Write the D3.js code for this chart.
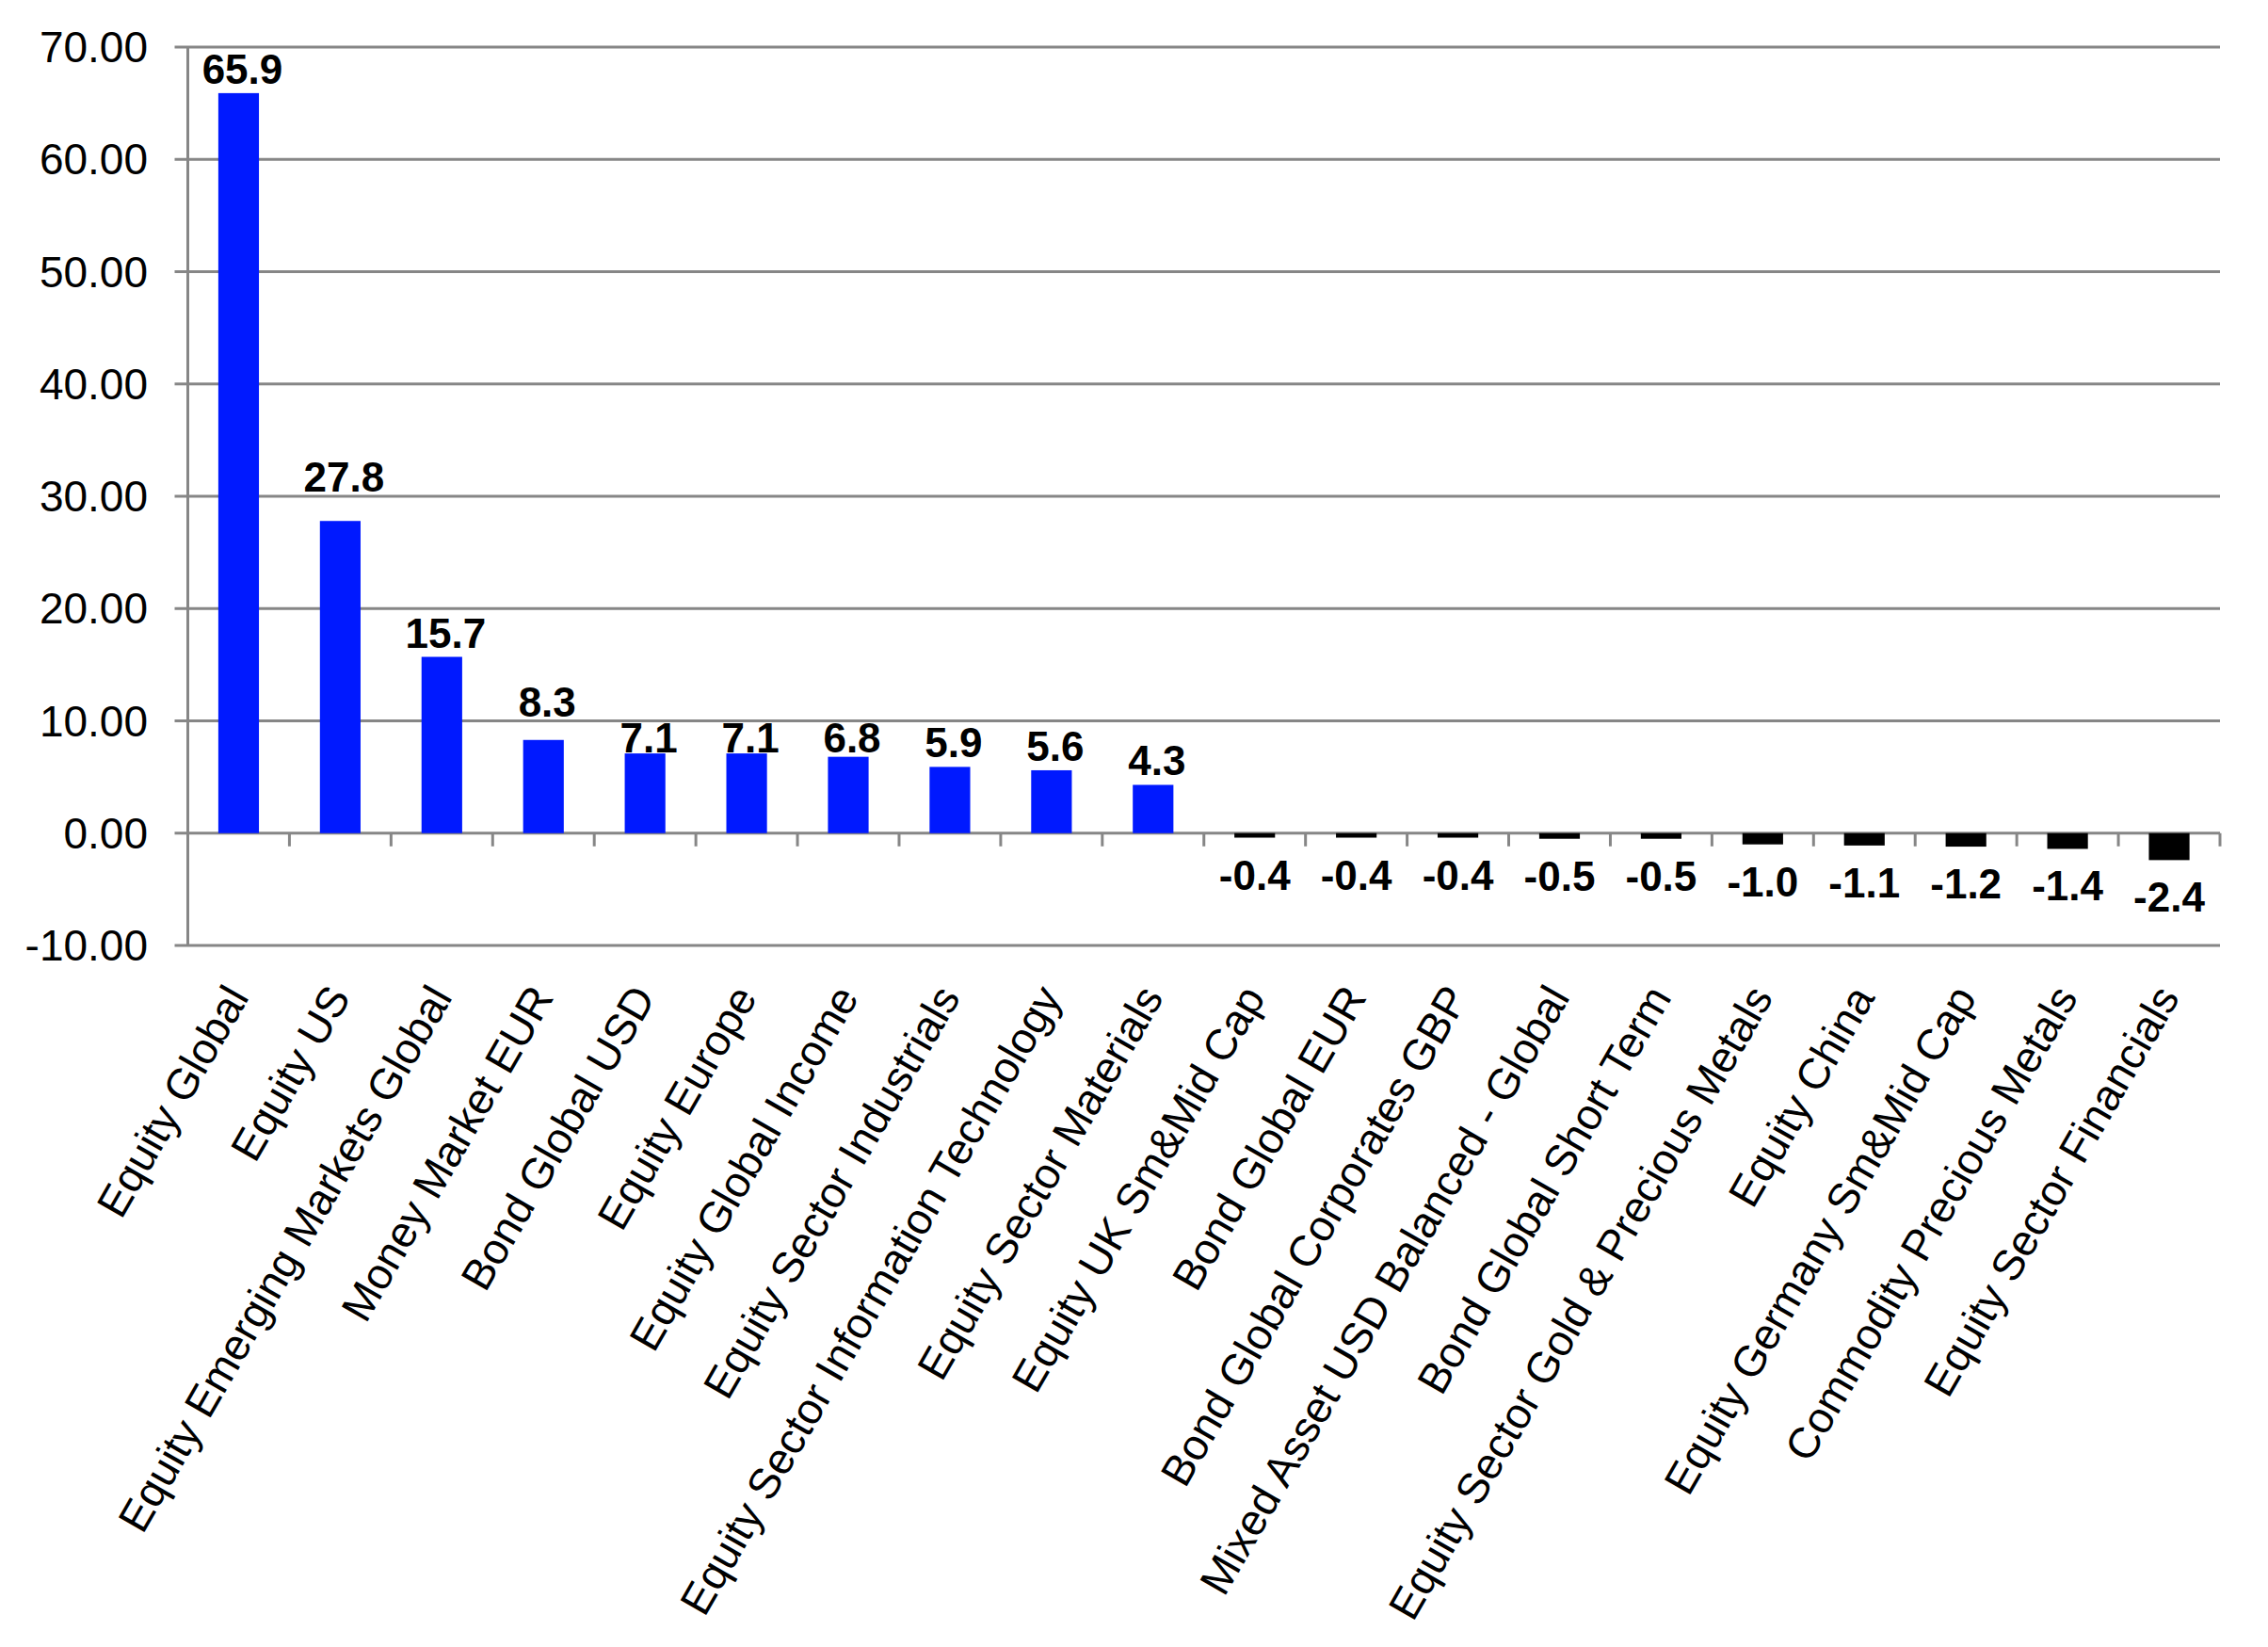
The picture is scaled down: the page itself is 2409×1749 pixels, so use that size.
<!DOCTYPE html>
<html lang="en">
<head>
<meta charset="UTF-8">
<title>Fund flows</title>
<script src="https://cdn.jsdelivr.net/npm/d3@7"></script>
<style>
  body { margin: 0; background: #fff; }
  svg { display: block; }
  text { font-family: "Liberation Sans", Arial, sans-serif; fill: #000; }
</style>
</head>
<body>
<div id="chart"></div>
<script>
// data
var categories = [
  "Equity Global", "Equity US", "Equity Emerging Markets Global", "Money Market EUR",
  "Bond Global USD", "Equity Europe", "Equity Global Income", "Equity Sector Industrials",
  "Equity Sector Information Technology", "Equity Sector Materials", "Equity UK Sm&Mid Cap",
  "Bond Global EUR", "Bond Global Corporates GBP", "Mixed Asset USD Balanced - Global",
  "Bond Global Short Term", "Equity Sector Gold & Precious Metals", "Equity China",
  "Equity Germany Sm&Mid Cap", "Commodity Precious Metals", "Equity Sector Financials"
];
var values = [65.9, 27.8, 15.7, 8.3, 7.1, 7.1, 6.8, 5.9, 5.6, 4.3,
  -0.4, -0.4, -0.4, -0.5, -0.5, -1.0, -1.1, -1.2, -1.4, -2.4];
var yTicks = [-10, 0, 10, 20, 30, 40, 50, 60, 70];

var W = 2409, H = 1749;
var plotLeft = 199.5, plotRight = 2358, plotTop = 50, plotBottom = 1004;
var gridColor = "#868686";

var svg = d3.select("#chart").append("svg")
  .attr("width", W)
  .attr("height", H);

svg.append("rect").attr("width", W).attr("height", H).attr("fill", "#fff");

var x = d3.scaleBand()
  .domain(categories)
  .range([plotLeft, plotRight])
  .paddingInner(0.6)
  .paddingOuter(0.3);

var y = d3.scaleLinear()
  .domain([-10, 70])
  .range([plotBottom, plotTop]);

var step = x.step();

// gridlines (with little ticks sticking out left of the axis)
svg.append("g").selectAll("line")
  .data(yTicks)
  .join("line")
  .attr("x1", plotLeft - 14)
  .attr("x2", plotRight)
  .attr("y1", d => y(d))
  .attr("y2", d => y(d))
  .attr("stroke", gridColor)
  .attr("stroke-width", 3);

// y axis line
svg.append("line")
  .attr("x1", plotLeft).attr("x2", plotLeft)
  .attr("y1", y(70)).attr("y2", y(-10))
  .attr("stroke", gridColor)
  .attr("stroke-width", 3);

// category ticks on the zero line
svg.append("g").selectAll("line")
  .data(d3.range(1, categories.length + 1))
  .join("line")
  .attr("x1", i => plotLeft + i * step)
  .attr("x2", i => plotLeft + i * step)
  .attr("y1", y(0))
  .attr("y2", y(0) + 14)
  .attr("stroke", gridColor)
  .attr("stroke-width", 3);

// y tick labels
svg.append("g").selectAll("text")
  .data(yTicks)
  .join("text")
  .attr("x", 157)
  .attr("y", d => y(d) + 16)
  .attr("text-anchor", "end")
  .style("font-size", "46px")
  .text(d => d.toFixed(2));

// bars
svg.append("g").selectAll("rect")
  .data(values)
  .join("rect")
  .attr("x", (d, i) => x(categories[i]))
  .attr("width", x.bandwidth())
  .attr("y", d => y(Math.max(0, d)))
  .attr("height", d => Math.abs(y(d) - y(0)))
  .attr("fill", d => d >= 0 ? "#0019ff" : "#000");

// value labels, nudged off gridlines like the original
var capH = 31.5;
function labelBaseline(v) {
  if (v < 0) return y(v) + 55;
  var b = y(v) - 10;
  yTicks.forEach(function(t) {
    var g = y(t);
    if (g > b - capH - 2 && g < b + 4) {
      var upPos = g - 5;
      var downPos = g + 2 + capH;
      b = (b - upPos) <= (downPos - b) * 1.5 ? upPos : downPos;
    }
  });
  return b;
}

svg.append("g").selectAll("text")
  .data(values)
  .join("text")
  .attr("x", (d, i) => x(categories[i]) + x.bandwidth() / 2 + (d >= 0 ? 4 : 0))
  .attr("y", d => labelBaseline(d))
  .attr("text-anchor", "middle")
  .style("font-size", "44px")
  .style("font-weight", "bold")
  .text(d => d.toFixed(1));

// rotated category labels
svg.append("g").selectAll("text")
  .data(categories)
  .join("text")
  .attr("transform", d => "translate(" + (x(d) + x.bandwidth() / 2 + 12) + "," + (y(-10) + 55) + ") rotate(-60)")
  .attr("text-anchor", "end")
  .style("font-size", "46px")
  .text(d => d);
</script>
</body>
</html>
